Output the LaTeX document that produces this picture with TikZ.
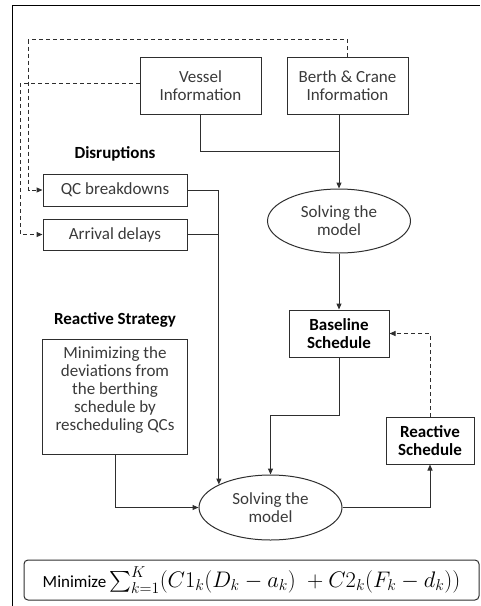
\RequirePackage{fix-cm}
\documentclass[tikz,border=0pt]{standalone}
\usepackage{amsmath}
\usepackage{fontspec}
\setmainfont{Carlito}
\usepackage{tikz}
\usetikzlibrary{positioning,shapes.geometric,arrows.meta}
\definecolor{inkgray}{HTML}{3A3A3A}
\definecolor{linegray}{HTML}{2E2E2E}

\begin{document}
\fontsize{17}{18}\selectfont
\begin{tikzpicture}[>={Triangle[length=6pt,width=5pt]},line width=1pt]
	\tikzstyle{box}=[rectangle,draw=linegray,align=center,inner sep=0pt,text=inkgray]
	\tikzstyle{boldbox}=[box,text=black,font=\bfseries]
	\tikzstyle{solver}=[ellipse,draw=linegray,align=center,inner sep=0pt,minimum width=143pt,minimum height=64pt,text=inkgray]
	\tikzstyle{flow}=[draw=linegray]
	\tikzstyle{dashflow}=[draw=linegray,dash pattern=on 4pt off 3pt]
	\useasboundingbox (0,0) rectangle (480pt,-606pt);
	\draw[black] (12pt,-606pt) -- (12pt,-5pt) -- (480pt,-5pt);
		\node[box, minimum width=121pt, minimum height=57pt] (vessel) at (200.5pt,-85.5pt) {Vessel\\Information};
		\node[box, minimum width=121pt, minimum height=57pt] (berth) [right=25pt of vessel] {Berth \& Crane\\Information};
		\node[solver] (solve1) [below=74pt of berth, xshift=-8.5pt] {Solving the\\model};
		\node[boldbox, minimum width=100pt, minimum height=47pt] (base) [below=56pt of solve1] {Baseline\\Schedule};
		\node[boldbox, minimum width=88pt, minimum height=47pt] (react) [below right=59pt and -4pt of base] {Reactive\\Schedule};
		\node[solver, minimum height=65pt] (solve2) [below=117pt of base, xshift=-68.5pt] {Solving the\\model};
		\node[box, minimum width=144pt, minimum height=32pt, label={[yshift=6pt,font=\bfseries]Disruptions}] (qc) [below left=59pt and -48pt of vessel] {QC breakdowns};
		\node[box, minimum width=144pt, minimum height=31pt] (delay) [below=12pt of qc] {Arrival delays};
		\node[box, minimum width=145pt, minimum height=115pt, text depth=16pt, label={[yshift=5pt,font=\bfseries]Reactive Strategy}] (strategy) [below=88pt of delay] {Minimizing the\\deviations from\\the berthing\\schedule by\\rescheduling QCs};
		\node[box, rounded corners=4pt, minimum width=455pt, minimum height=40pt, text=black] (formula) [below=19pt of solve2, xshift=-19pt] {Minimize\,{\fontsize{22.5}{24}\selectfont$\sum_{k=1}^{K}(C1_k(D_k-a_k)\;+C2_k(F_k-d_k))$}};
			\coordinate (merge1) at ([yshift=-37pt]vessel.south -| solve1.north);
			\draw[flow] (vessel.south) |- (merge1);
			\draw[flow,->] (berth.south -| solve1.north) -- (solve1.north);
			\draw[flow,->] (solve1.south) -- (base.north);
			\draw[flow,->] (qc.east) -| (solve2.156);
			\draw[flow] (delay.east) -- (delay.east -| solve2.156);
			\draw[flow,->] (base.south) -- ++(0,-58pt) -| (solve2.north);
			\draw[flow,->] (strategy.south) |- (solve2.west);
			\draw[flow,->] (solve2.east) -| (react.south);
			\draw[dashflow,->] (react.north) |- (base.east);
			\draw[dashflow,->] (berth.north) -- ++(0,17pt) -| ([xshift=-14pt]qc.west) -- (qc.west);
			\draw[dashflow,->] ([yshift=2.5pt]vessel.west) -| ([xshift=-22pt]delay.west) -- (delay.west);
\end{tikzpicture}
\end{document}
